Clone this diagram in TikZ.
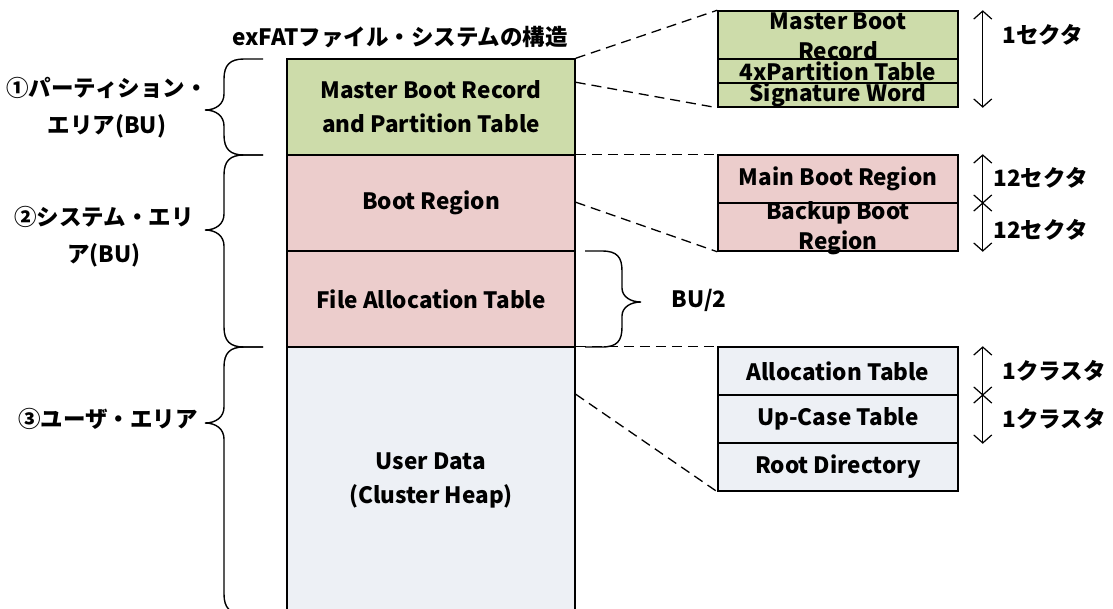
\documentclass[tikz,border=0pt]{standalone}
\usepackage{fontspec}
\setmainfont{Noto Sans CJK JP}
\usetikzlibrary{arrows.meta}

\definecolor{mbrgreen}{RGB}{205,220,170}
\definecolor{syspink}{RGB}{236,205,204}
\definecolor{usergray}{RGB}{237,240,245}

% left curly brace: top, tip, bottom
\newcommand{\areabrace}[3]{%
  \draw[brace] (263,#1) -- (244,#1) .. controls (230,#1) and (224,{#1+6}) .. (224,{#1+20})
    -- (224,{#2-16}) .. controls (224,{#2-6}) and (216,#2) .. (205,#2)
    .. controls (216,#2) and (224,{#2+6}) .. (224,{#2+16})
    -- (224,{#3-20}) .. controls (224,{#3-6}) and (230,#3) .. (244,#3) -- (263,#3);}

\begin{document}
\begin{tikzpicture}[x=1pt,y=-1pt,
    every node/.style={font=\fontsize{22.5}{34}\selectfont\bfseries},
    area/.style={draw,line width=1.5pt,minimum width=288pt,inner sep=0pt},
    part/.style={draw,line width=1.5pt,minimum width=240pt,inner sep=0pt},
    zoomline/.style={line width=1.3pt,dash pattern=on 10pt off 6pt},
    brace/.style={line width=1.4pt},
    measure/.style={line width=1.2pt,{Straight Barb[length=8pt,width=18pt]}-{Straight Barb[length=8pt,width=18pt]}}]
  \useasboundingbox (0,0) rectangle (1113,608);
  \clip (0,0) rectangle (1113,608);

  \node (title) at (400,37) {exFATファイル・システムの構造};

  % main column
  \node[area,fill=mbrgreen,minimum height=96pt] (mbr) at (431,107) {};
  \node[area,fill=syspink,minimum height=96pt] (boot) at (431,203) {};
  \node[area,fill=syspink,minimum height=96pt] (fat) at (431,299) {};
  \node[area,fill=usergray,minimum height=266pt] (user) at (431,480) {};
  \node[align=center] (mbrtxt) at (mbr) {Master Boot Record\\and Partition Table};
  \node (boottxt) at (boot) {Boot Region};
  \node (fattxt) at (fat) {File Allocation Table};
  \node[align=center] (usertxt) at (user) {User Data\\(Cluster Heap)};

  % details
  \node[part,fill=mbrgreen,minimum height=48pt] (mbrrec) at (838,35) {};
  \node[part,fill=mbrgreen,minimum height=24pt] (ptable) at (838,71) {};
  \node[part,fill=mbrgreen,minimum height=24pt] (sigword) at (838,95) {};
  \node[align=center,font=\fontsize{22.5}{30}\selectfont\bfseries] at (838,36) {Master Boot\\Record};
  \node at (ptable) {4xPartition Table};
  \node at (sigword) {Signature Word};

  \node[part,fill=syspink,minimum height=48pt] (mainboot) at (838,179) {};
  \node[part,fill=syspink,minimum height=48pt] (backboot) at (838,227) {};
  \node at (mainboot) {Main Boot Region};
  \node[align=center,font=\fontsize{22.5}{30}\selectfont\bfseries] at (838,228) {Backup Boot\\Region};

  \node[part,fill=usergray,minimum height=48pt] (alloc) at (838,371) {};
  \node[part,fill=usergray,minimum height=48pt] (upcase) at (838,419) {};
  \node[part,fill=usergray,minimum height=48pt] (rootdir) at (838,467) {};
  \node at (alloc) {Allocation Table};
  \node at (upcase) {Up-Case Table};
  \node at (rootdir) {Root Directory};

  % dashed zoom lines
  \draw[zoomline] (mbr.north east) -- (mbrrec.north west);
  \draw[zoomline] ([yshift=-24pt]mbr.north east) -- (sigword.south west);
  \draw[zoomline] (boot.north east) -- (mainboot.north west);
  \draw[zoomline] ([yshift=-48pt]boot.north east) -- (backboot.south west);
  \draw[zoomline] (user.north east) -- (alloc.north west);
  \draw[zoomline] ([yshift=-48pt]user.north east) -- (rootdir.south west);

  % sizes
  \draw[measure] ([xshift=24pt]mbrrec.north east) -- ([xshift=24pt]sigword.south east);
  \draw[measure] ([xshift=24pt]mainboot.north east) -- ([xshift=24pt]mainboot.south east);
  \draw[measure] ([xshift=24pt]backboot.north east) -- ([xshift=24pt]backboot.south east);
  \draw[measure] ([xshift=24pt]alloc.north east) -- ([xshift=24pt]alloc.south east);
  \draw[measure] ([xshift=24pt]upcase.north east) -- ([xshift=24pt]upcase.south east);
  \node[anchor=west] (sec1) at (999,35) {1セクタ};
  \node[anchor=west] (sec12a) at (990,178) {12セクタ};
  \node[anchor=west] (sec12b) at (990,230) {12セクタ};
  \node[anchor=west] (clus1) at (999,371) {1クラスタ};
  \node[anchor=west] (clus2) at (999,419) {1クラスタ};

  % areas
  \areabrace{59}{110}{155}
  \areabrace{155}{230}{347}
  \areabrace{347}{423}{614}
  \node[align=center,font=\fontsize{22.5}{37}\selectfont\bfseries] (partlbl) at (107,108) {①パーティション・\\エリア(BU)};
  \node[align=center,font=\fontsize{22.5}{37}\selectfont\bfseries] (syslbl) at (104,237) {②システム・エリ\\ア(BU)};
  \node (userlbl) at (108,419) {③ユーザ・エリア};

  \draw[brace] (585,251) -- (602,251) .. controls (617,251) and (622,257) .. (622,271)
    -- (622,288) .. controls (622,297) and (631,302) .. (641,302)
    .. controls (631,302) and (622,307) .. (622,316)
    -- (622,327) .. controls (622,341) and (617,347) .. (602,347) -- (585,347);
  \node[anchor=west] (half) at (668,300) {BU/2};
\end{tikzpicture}
\end{document}
